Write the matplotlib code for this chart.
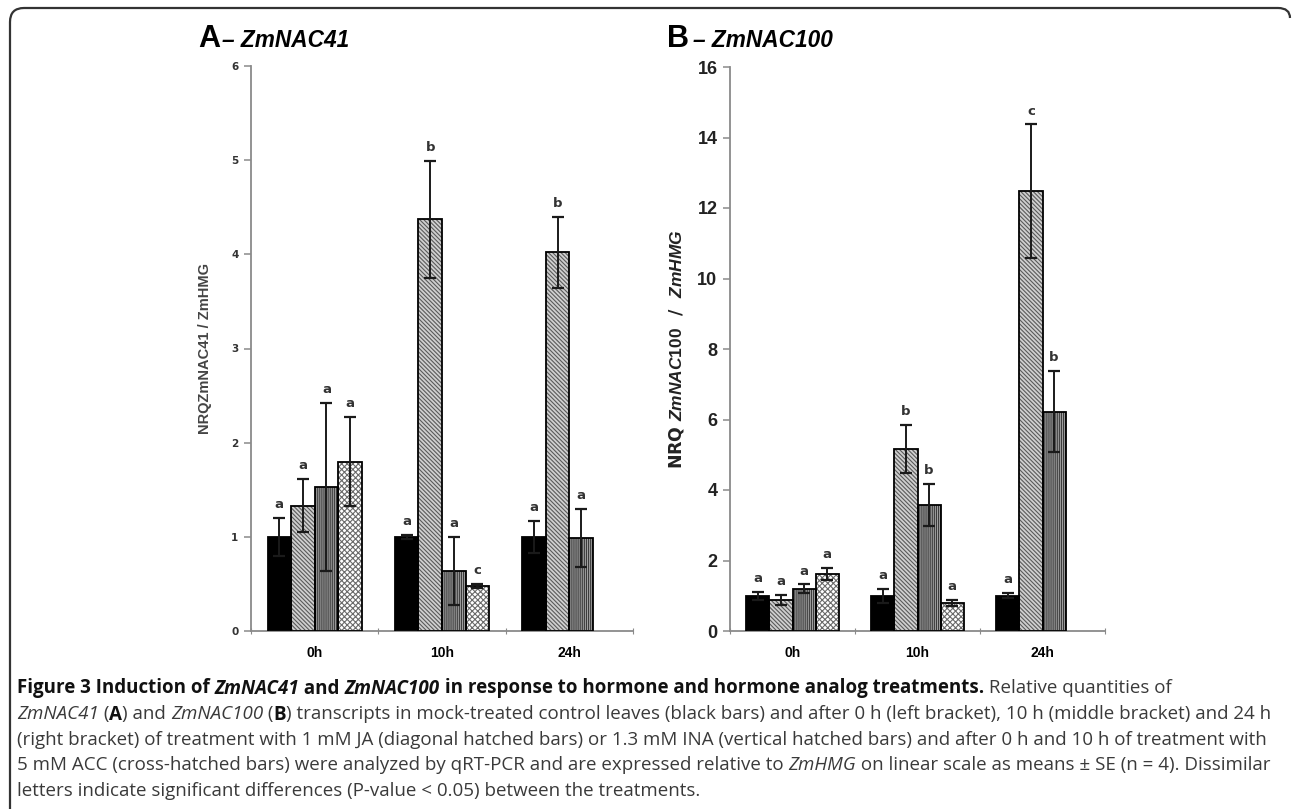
import numpy as np
import matplotlib
matplotlib.use('Agg')
import matplotlib.pyplot as plt
from matplotlib.path import Path
from matplotlib.patches import PathPatch

groups = ['0h', '10h', '24h']

# panel A - ZmNAC41
a_ctrl = [1.0, 1.0, 1.0]
a_ctrl_se = [0.2, 0.02, 0.17]
a_ja = [1.33, 4.37, 4.02]
a_ja_se = [0.28, 0.62, 0.38]
a_ina = [1.53, 0.64, 0.99]
a_ina_se = [0.89, 0.36, 0.31]
a_acc = [1.80, 0.48]
a_acc_se = [0.47, 0.02]
a_letters = [['a', 'a', 'a'], ['a', 'b', 'b'], ['a', 'a', 'a'], ['a', 'c']]

# panel B - ZmNAC100
b_ctrl = [1.0, 1.0, 1.0]
b_ctrl_se = [0.12, 0.2, 0.07]
b_ja = [0.88, 5.17, 12.47]
b_ja_se = [0.13, 0.68, 1.9]
b_ina = [1.2, 3.57, 6.22]
b_ina_se = [0.12, 0.59, 1.15]
b_acc = [1.62, 0.80]
b_acc_se = [0.18, 0.09]
b_letters = [['a', 'a', 'a'], ['a', 'b', 'c'], ['a', 'b', 'b'], ['a', 'a']]

plt.rcParams['hatch.linewidth'] = 0.8
plt.rcParams['mathtext.fontset'] = 'custom'
plt.rcParams['mathtext.rm'] = 'Liberation Sans:bold'
plt.rcParams['mathtext.it'] = 'Liberation Sans:bold:italic'

W, H = 1292, 809
fig = plt.figure(figsize=(W / 100, H / 100), dpi=100)

# (face, hatch, hatch colour)
styles = [('black', None, 'black'),
          ('#cfcfcf', '\\' * 8, '#5a5a5a'),
          ('#a4a4a4', '|' * 8, '#3c3c3c'),
          ('white', 'x' * 6, '#6a6a6a')]
bw = 0.185


def panel(ax, series, errs, letters, ymax, letter_size):
    for k, (vals, se) in enumerate(zip(series, errs)):
        x = np.arange(len(vals)) + 0.5 + (k - 1.5) * bw
        face, hatch, hc = styles[k]
        ax.bar(x, vals, bw, color=face, hatch=hatch, edgecolor=hc, linewidth=0, zorder=2)
        ax.bar(x, vals, bw, fill=False, edgecolor='black', linewidth=1.3, zorder=3)
        ax.errorbar(x, vals, yerr=se, fmt='none', ecolor='#1a1a1a', elinewidth=1.4,
                    capsize=4, capthick=1.6, zorder=4)
        for xi, v, e, lt in zip(x, vals, se, letters[k]):
            ax.annotate(lt, (xi, v + e), xytext=(0, 5), textcoords='offset points',
                        ha='center', va='bottom', fontsize=letter_size,
                        fontweight='bold', color='#333333', family='DejaVu Sans')
    ax.set_xlim(0, 3)
    ax.set_ylim(0, ymax)
    for s in ['top', 'right']:
        ax.spines[s].set_visible(False)
    for s in ['left', 'bottom']:
        ax.spines[s].set_color('#8a8a8a')
        ax.spines[s].set_linewidth(1.3)
    ax.set_xticks([0, 1, 2, 3])
    ax.set_xticklabels([])
    ax.set_xticks([0.5, 1.5, 2.5], minor=True)
    ax.set_xticklabels(groups, minor=True, fontsize=10, fontweight='bold',
                       family='Liberation Sans')
    ax.tick_params(axis='x', which='major', length=4, color='#8a8a8a', direction='inout')
    ax.tick_params(axis='x', which='minor', length=0, pad=11)
    ax.tick_params(axis='y', length=5, color='#8a8a8a', width=1.1, pad=4)


axA = fig.add_axes([251 / W, 1 - 631 / H, 382 / W, 565 / H])
panel(axA, [a_ctrl, a_ja, a_ina, a_acc], [a_ctrl_se, a_ja_se, a_ina_se, a_acc_se],
      a_letters, 6, 9.5)
axA.set_yticks(range(0, 7))
for t in axA.get_yticklabels():
    t.set_fontsize(7.5)
    t.set_fontweight('bold')
    t.set_family('DejaVu Sans')
    t.set_color('#333333')
axA.set_ylabel('NRQZmNAC41 / ZmHMG', fontsize=10.5, fontweight='bold',
               family='Liberation Sans', color='#444444', labelpad=14)

axB = fig.add_axes([730 / W, 1 - 631 / H, 375 / W, 564 / H])
panel(axB, [b_ctrl, b_ja, b_ina, b_acc], [b_ctrl_se, b_ja_se, b_ina_se, b_acc_se],
      b_letters, 16, 9.5)
axB.set_yticks(range(0, 17, 2))
for t in axB.get_yticklabels():
    t.set_fontsize(13)
    t.set_fontweight('bold')
    t.set_family('Liberation Sans')
    t.set_color('#222222')
axB.set_ylabel(r'NRQ $ZmNAC100$  /  $ZmHMG$', fontsize=12.5, fontweight='bold',
               color='#222222', labelpad=8)

# panel titles
fig.text(198 / W, 1 - 47 / H, 'A', fontsize=22, fontweight='bold', family='Liberation Sans')
fig.text(222 / W, 1 - 47 / H, '– ZmNAC41', fontsize=16.3, fontweight='bold',
         fontstyle='italic', family='Liberation Sans')
fig.text(667 / W, 1 - 47 / H, 'B', fontsize=22, fontweight='bold', family='Liberation Sans')
fig.text(693 / W, 1 - 47 / H, '– ZmNAC100', fontsize=16.3, fontweight='bold',
         fontstyle='italic', family='Liberation Sans')

# frame with rounded corners (top and left edges only)
pts = [(1290, 18), (1290, 8), (1278, 8), (24, 8), (10, 8), (10, 22), (10, 812)]
codes = [Path.MOVETO, Path.CURVE3, Path.CURVE3, Path.LINETO, Path.CURVE3, Path.CURVE3, Path.LINETO]
frame = Path([(x / W, 1 - y / H) for x, y in pts], codes)
fig.patches.append(PathPatch(frame, transform=fig.transFigure, fill=False,
                             edgecolor='#333333', linewidth=1.6))

# caption
caption = [
    [('Figure 3 Induction of ', 'bold', 'normal'), ('ZmNAC41', 'bold', 'italic'),
     (' and ', 'bold', 'normal'), ('ZmNAC100', 'bold', 'italic'),
     (' in response to hormone and hormone analog treatments.', 'bold', 'normal'),
     (' Relative quantities of', 'normal', 'normal')],
    [('ZmNAC41', 'normal', 'italic'), (' (', 'normal', 'normal'), ('A', 'bold', 'normal'),
     (') and ', 'normal', 'normal'), ('ZmNAC100', 'normal', 'italic'), (' (', 'normal', 'normal'),
     ('B', 'bold', 'normal'),
     (') transcripts in mock-treated control leaves (black bars) and after 0 h (left bracket), 10 h (middle bracket) and 24 h',
      'normal', 'normal')],
    [('(right bracket) of treatment with 1 mM JA (diagonal hatched bars) or 1.3 mM INA (vertical hatched bars) and after 0 h and 10 h of treatment with',
      'normal', 'normal')],
    [('5 mM ACC (cross-hatched bars) were analyzed by qRT-PCR and are expressed relative to ', 'normal', 'normal'),
     ('ZmHMG', 'normal', 'italic'),
     (' on linear scale as means ± SE (n = 4). Dissimilar', 'normal', 'normal')],
    [('letters indicate significant differences (P-value < 0.05) between the treatments.', 'normal', 'normal')],
]
renderer = fig.canvas.get_renderer()
line_y = [686, 712, 738, 763, 789]
for segs, y in zip(caption, line_y):
    x = 17
    for s, wgt, sty in segs:
        col = '#111111' if wgt == 'bold' else '#3a3a3a'
        t = fig.text(x / W, 1 - y / H, s, fontsize=13.5, fontweight=wgt, fontstyle=sty,
                     family='Open Sans', color=col, va='center_baseline')
        x += t.get_window_extent(renderer).width

fig.savefig('out.png', dpi=100)
